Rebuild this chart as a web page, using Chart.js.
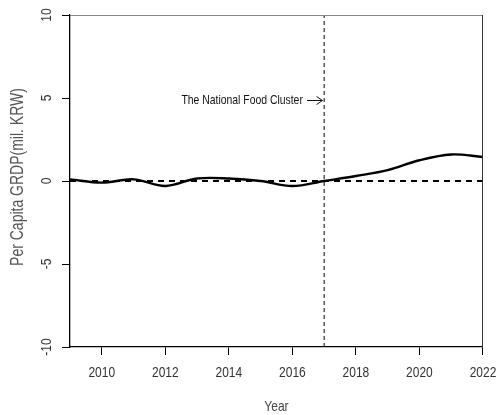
<!DOCTYPE html>
<html>
<head>
<meta charset="utf-8">
<script src="https://cdn.jsdelivr.net/npm/chart.js@4"></script>
<style>
    html, body { margin: 0; padding: 0; background: #fff; }
    #wrap { width: 501px; height: 415px; position: relative; }
</style>
</head>
<body>
<div id="wrap"><canvas id="grdpChart"></canvas></div>
<script>
// Data
const years = [2009, 2010, 2011, 2012, 2013, 2014, 2015, 2016, 2017, 2018, 2019, 2020, 2021, 2022];
const grdp = [0.1, -0.1, 0.1, -0.3, 0.15, 0.15, 0.0, -0.3, 0.0, 0.3, 0.65, 1.25, 1.6, 1.45];
const xTicks = [2010, 2012, 2014, 2016, 2018, 2020, 2022];
const yTicks = [-10, -5, 0, 5, 10];
const policyYear = 2017;
const annotText = "The National Food Cluster";
const annotY = 4.85;

const FONT = "'Liberation Sans', Arial, sans-serif";
const NARROW = 0.8; // the reference uses a condensed face

// draw condensed text, rot = 0 or -PI/2
function narrowText(ctx, text, x, y, size, rot, align, color) {
    ctx.save();
    ctx.translate(x, y);
    ctx.rotate(rot);
    ctx.scale(NARROW, 1);
    ctx.font = size + "px " + FONT;
    ctx.fillStyle = color;
    ctx.textAlign = align;
    ctx.textBaseline = "middle";
    ctx.fillText(text, 0, 0);
    ctx.restore();
}

const rPlot = {
    id: "rPlot",
    afterDraw(chart) {
        const { ctx, chartArea: a, scales: { x, y } } = chart;

        // top and right sides of the box
        ctx.save();
        ctx.lineWidth = 1;
        ctx.strokeStyle = "#888";
        ctx.beginPath();
        ctx.moveTo(a.left, a.top + 0.5);
        ctx.lineTo(a.right, a.top + 0.5);
        ctx.stroke();
        ctx.strokeStyle = "#333";
        ctx.beginPath();
        ctx.moveTo(a.right - 0.5, a.top);
        ctx.lineTo(a.right - 0.5, a.bottom);
        ctx.stroke();
        ctx.restore();

        // tick labels
        xTicks.forEach((v) => {
            narrowText(ctx, String(v), x.getPixelForValue(v), 373, 15, 0, "center", "#333");
        });
        yTicks.forEach((v) => {
            narrowText(ctx, String(v), 47, y.getPixelForValue(v), 15, -Math.PI / 2, "center", "#333");
        });

        // axis titles
        narrowText(ctx, "Year", (a.left + a.right) / 2, 407, 15, 0, "center", "#444");
        narrowText(ctx, "Per Capita GRDP(mil. KRW)", 18, 177, 17.5, -Math.PI / 2, "center", "#555");

        // annotation with arrow pointing at the policy year
        const ay = y.getPixelForValue(annotY);
        const tx = x.getPixelForValue(policyYear - 0.67);
        const ax0 = x.getPixelForValue(policyYear - 0.54);
        const ax1 = x.getPixelForValue(policyYear - 0.05);
        narrowText(ctx, annotText, tx, ay, 13, 0, "right", "#111");
        ctx.save();
        ctx.strokeStyle = "#111";
        ctx.lineWidth = 1;
        ctx.beginPath();
        ctx.moveTo(ax0, ay);
        ctx.lineTo(ax1, ay);
        ctx.moveTo(ax1 - 6, ay - 4);
        ctx.lineTo(ax1, ay);
        ctx.lineTo(ax1 - 6, ay + 4);
        ctx.stroke();
        ctx.restore();
    },
};

const ctx = document.getElementById("grdpChart").getContext("2d");

new Chart(ctx, {
    type: "line",
    data: {
        datasets: [
            {
                label: "GRDP",
                data: years.map((yr, i) => ({ x: yr, y: grdp[i] })),
                borderColor: "#000",
                borderWidth: 2.4,
                pointRadius: 0,
                tension: 0.35,
                fill: false,
            },
            {
                label: "zero",
                data: [{ x: years[0], y: 0 }, { x: years[years.length - 1], y: 0 }],
                borderColor: "#000",
                borderWidth: 2,
                borderDash: [6, 5],
                pointRadius: 0,
            },
            {
                label: "policy",
                data: [{ x: policyYear, y: yTicks[0] }, { x: policyYear, y: yTicks[yTicks.length - 1] }],
                borderColor: "#000",
                borderWidth: 1,
                borderDash: [4, 3],
                pointRadius: 0,
            },
        ],
    },
    options: {
        responsive: true,
        maintainAspectRatio: false,
        animation: false,
        layout: { padding: { top: 15, right: 18, left: 0, bottom: 0 } },
        plugins: {
            legend: { display: false },
            tooltip: { enabled: false },
        },
        scales: {
            x: {
                type: "linear",
                min: years[0],
                max: years[years.length - 1],
                afterBuildTicks: (s) => { s.ticks = xTicks.map((v) => ({ value: v })); },
                afterFit: (s) => { s.height = 68; },
                grid: { drawOnChartArea: false, drawTicks: true, tickLength: 8, color: "#000", lineWidth: 1 },
                border: { color: "#000", width: 1.3 },
                ticks: { color: "transparent", font: { size: 12 } },
            },
            y: {
                type: "linear",
                min: -10,
                max: 10,
                afterBuildTicks: (s) => { s.ticks = yTicks.map((v) => ({ value: v })); },
                afterFit: (s) => { s.width = 70; },
                grid: { drawOnChartArea: false, drawTicks: true, tickLength: 8, color: "#000", lineWidth: 1 },
                border: { color: "#000", width: 1.3 },
                ticks: { color: "transparent", font: { size: 12 } },
            },
        },
    },
    plugins: [rPlot],
});
</script>
</body>
</html>
